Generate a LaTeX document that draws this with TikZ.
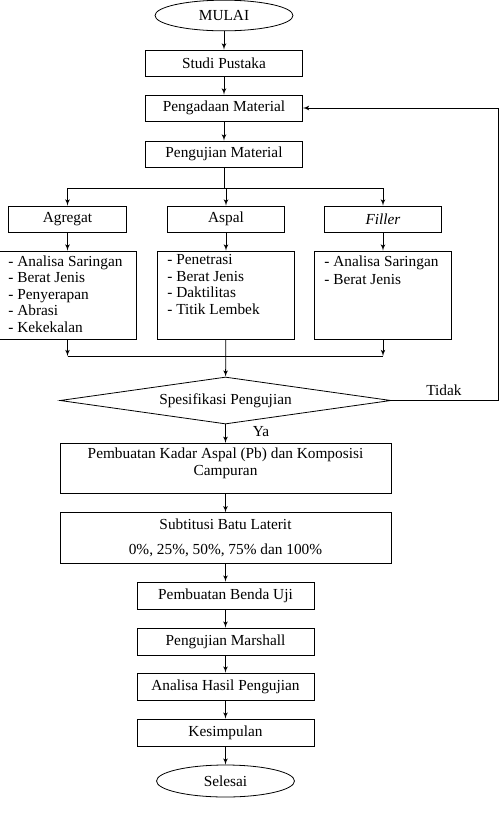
\documentclass[tikz,border=0pt]{standalone}
\usepackage{fontspec}
\setmainfont{Liberation Serif}
\usetikzlibrary{arrows}
\usetikzlibrary{positioning}
\usetikzlibrary{shapes.geometric}

\begin{document}
\begin{tikzpicture}[x=0.75pt,y=-0.75pt,->,>=latex',line width=0.6pt,
  font=\fontsize{11.5}{13}\selectfont,
  box/.style={rectangle,draw,inner sep=0pt,minimum width=117.75pt,minimum height=19.5pt},
  smallbox/.style={rectangle,draw,inner sep=0pt,minimum width=88pt,minimum height=19.5pt},
  listbox/.style={rectangle,draw,inner sep=0pt,minimum width=102.75pt,minimum height=66pt},
  widebox/.style={rectangle,draw,inner sep=0pt,minimum width=248.25pt,minimum height=38pt},
  midbox/.style={rectangle,draw,inner sep=0pt,minimum width=132.75pt,minimum height=20.25pt},
  terminal/.style={ellipse,draw,inner sep=0pt,minimum width=103.5pt,minimum height=23pt},
  decision/.style={diamond,draw,inner sep=0pt,aspect=7.04,minimum width=248.25pt,minimum height=35.25pt},
  listtext/.style={anchor=north west,align=left,inner sep=0pt,font=\fontsize{11.5}{12.4}\selectfont}]

  \useasboundingbox (0,0) rectangle (500,819);

  % kolom atas
  \node[terminal] (mulai) at (224,15.5) {MULAI};
  \node[box] (studi) at (224,63) {Studi Pustaka};
  \node[box] (pengadaan) at (224,108) {Pengadaan Material};
  \node[box] (pengujian) at (224,154) {Pengujian Material};

  % tiga material
  \node[smallbox] (agregat) at (67.5,219) {Agregat};
  \node[smallbox] (aspal) at (226,219) {Aspal};
  \node[smallbox] (filler) at (383,219) {\textit{Filler}};

  \node[listbox] (agglist) at (67.5,295) {};
  \node[listbox] (aspallist) at (226,295) {};
  \node[listbox] (fillerlist) at (383,295) {};

  \node[listtext] (aggtext) at (8,255) {- Analisa Saringan\\- Berat Jenis\\- Penyerapan\\- Abrasi\\- Kekekalan};
  \node[listtext] (aspaltext) at (167,254) {- Penetrasi\\- Berat Jenis\\- Daktilitas\\- Titik  Lembek};
  \node[listtext,font=\fontsize{11.5}{14.2}\selectfont] (fillertext) at (324,255) {- Analisa Saringan\\- Berat Jenis};

  % keputusan
  \node[decision] (spek) at (225.5,400.5) {Spesifikasi  Pengujian};
  \node[anchor=center] (tidak) at (444,390) {Tidak};
  \node[anchor=center] (ya) at (261,432) {Ya};

  % kolom bawah
  \node[widebox] (kadar) at (225.5,468.5) {};
  \node[anchor=north,align=center,inner sep=0pt] (kadartext) at (225.5,447.5) {Pembuatan Kadar Aspal (Pb) dan Komposisi\\Campuran};
  \node[widebox,align=center] (subtitusi) at (225.5,538) {Subtitusi  Batu Laterit\\[6pt]0\%, 25\%, 50\%, 75\% dan 100\%};
  \node[midbox] (benda) at (225.5,595.5) {Pembuatan Benda Uji};
  \node[midbox] (marshall) at (225.5,641.5) {Pengujian Marshall};
  \node[midbox] (analisa) at (225.5,686.5) {Analisa Hasil Pengujian};
  \node[midbox] (kesimpulan) at (225.5,732.5) {Kesimpulan};
  \node[terminal,minimum height=24pt] (selesai) at (225.5,781) {Selesai};

  \coordinate (split) at (224,188);
  \coordinate (merge) at (226,356);
  \coordinate (loop) at (498.5,400.5);

  \path
    (mulai) edge (studi)
    (studi) edge (pengadaan)
    (pengadaan) edge (pengujian);

  \draw[-] (pengujian) -- (split);
  \draw (split) -| (agregat);
  \draw (split) -| (filler);
  \draw (split) -| (aspal);

  \path
    (agregat) edge (agglist)
    (aspal) edge (aspallist)
    (filler) edge (fillerlist);

  \draw (agglist) -- (agglist |- merge);
  \draw (fillerlist) -- (fillerlist |- merge);
  \draw[-] (agglist |- merge) -- (fillerlist |- merge);
  \draw (aspallist) -- (spek);

  \draw (spek) -- (loop) |- (pengadaan);

  \path
    (spek) edge (kadar)
    (kadar) edge (subtitusi)
    (subtitusi) edge (benda)
    (benda) edge (marshall)
    (marshall) edge (analisa)
    (analisa) edge (kesimpulan)
    (kesimpulan) edge (selesai);
\end{tikzpicture}
\end{document}
